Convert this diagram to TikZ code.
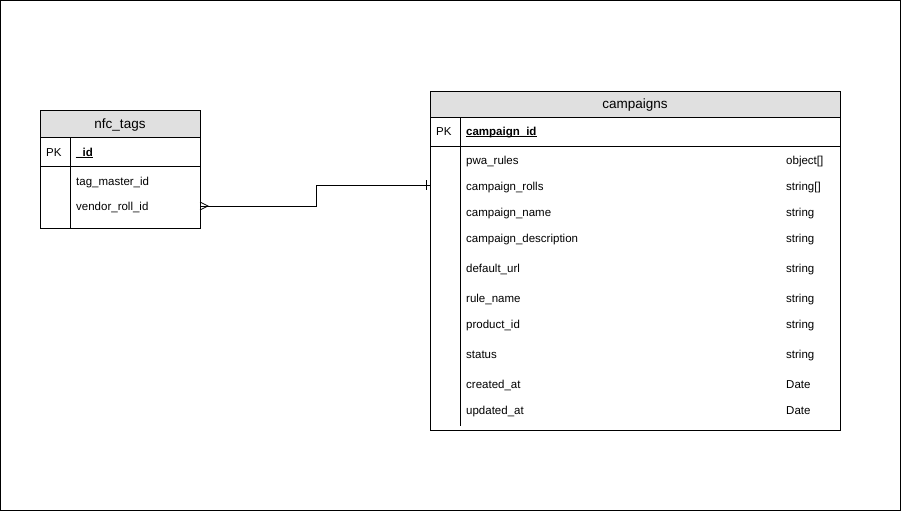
\documentclass[tikz,border=0pt]{standalone}
\usepackage{fontspec}
\setmainfont{Liberation Sans}
\newcommand{\myul}[1]{\setbox0\hbox{#1}\rlap{\rule[-1.6pt]{\wd0}{0.9pt}}\box0}
\begin{document}
\begin{tikzpicture}[x=1pt,y=-1pt,
  frame/.style={draw=black,line width=0.8pt},
  hdr/.style={draw=black,fill=headgrey,line width=0.8pt},
  title/.style={font=\fontsize{13.5}{16}\selectfont,anchor=base,inner sep=0pt},
  fld/.style={font=\fontsize{11.5}{14}\selectfont,anchor=base west,inner sep=0pt},
  typ/.style={font=\fontsize{11.5}{14}\selectfont,anchor=base west,inner sep=0pt},
  pkf/.style={font=\bfseries\fontsize{11.5}{14}\selectfont,anchor=base west,inner sep=0pt},
  conn/.style={draw=black,line width=0.8pt}]
\definecolor{headgrey}{HTML}{E0E0E0}
\useasboundingbox (0,0) rectangle (901,511);
\draw[line width=1pt] (0.5,0.5) rectangle (900.5,510.5);

% ---------- nfc_tags ----------
\draw[frame,fill=white] (40,110) rectangle (200,228);
\draw[hdr] (40,110) rectangle (200,137);
\node[title] (nfct) at (120,128.5) {nfc\_tags};
\draw[frame] (40,166) -- (200,166);
\draw[frame] (70,137) -- (70,228);
\node[fld] (nfcpk) at (46,156) {PK};
\node[pkf] (nfcid) at (76,156) {\myul{\_id}};
\node[fld] (nfcf1) at (76,185) {tag\_master\_id};
\node[fld] (nfcf2) at (76,210.5) {vendor\_roll\_id};

% ---------- campaigns ----------
\draw[frame,fill=white] (430,91) rectangle (840,430);
\draw[hdr] (430,91) rectangle (840,117);
\node[title] (campt) at (635,108.5) {campaigns};
\draw[frame] (430,146) -- (840,146);
\draw[frame] (460,117) -- (460,426);
\node[fld] (cpk) at (436,135.5) {PK};
\node[pkf] (cid) at (466,135.5) {\myul{campaign\_id}};
\foreach \n/\t/\y in {pwa\_rules/object[]/164.5,
                      campaign\_rolls/string[]/190.5,
                      campaign\_name/string/216.5,
                      campaign\_description/string/242.5,
                      default\_url/string/272.5,
                      rule\_name/string/302.5,
                      product\_id/string/328.5,
                      status/string/358.5,
                      created\_at/Date/388.5,
                      updated\_at/Date/414.5}{
  \node[fld] (cf\y) at (466,\y) {\n};
  \node[typ] (ct\y) at (786,\y) {\t};
}

% ---------- connector ----------
\coordinate (nfcend) at (200,206);
\coordinate (campend) at (430,185);
\draw[conn] (nfcend) -- (316,206) |- (campend);
% crow's foot (many) at nfc_tags
\draw[conn] (200,202) -- (208,206) -- (200,210);
% one bar at campaigns
\draw[conn] (426,180) -- (426,190);
\end{tikzpicture}
\end{document}
